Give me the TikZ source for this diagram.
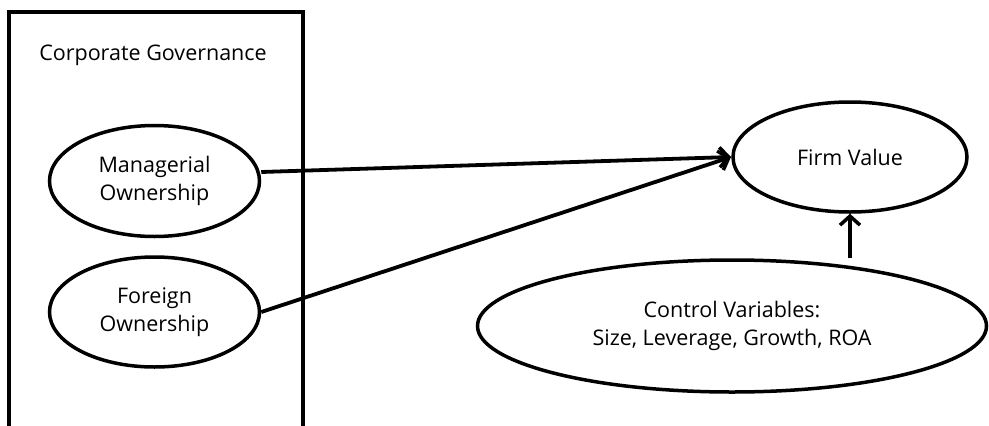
\documentclass[tikz,border=0pt]{standalone}
\usepackage{fontspec}
\setmainfont{Open Sans}
\usetikzlibrary{shapes.geometric,arrows.meta}
\begin{document}
\begin{tikzpicture}[x=1pt,y=-1pt,
  oval/.style={draw,line width=3.5pt,ellipse,inner sep=0pt,align=center,font=\fontsize{21.5}{28}\selectfont},
  lbl/.style={font=\fontsize{21.5}{28}\selectfont,align=center},
  link/.style={line width=3.8pt,-{Straight Barb[length=9pt,width=20pt,line width=3.5pt]}}]
\useasboundingbox (0,0) rectangle (989,426);
\fill[white] (0,0) rectangle (989,426);
\coordinate (bl) at (9,440);
\coordinate (br) at (303,440);
\draw[line width=3.8pt] (bl) -- (9,12) -- (303,12) -- (br);
\node[lbl] (cg) at (153,55) {Corporate Governance};
\node[oval,minimum width=210pt,minimum height=111pt] (mo) at (154.5,181) {Managerial\\Ownership};
\node[oval,minimum width=210pt,minimum height=110pt] (fo) at (154.5,312) {Foreign\\Ownership};
\node[oval,minimum width=234pt,minimum height=110pt] (fv) at (850,157) {Firm\ Value};
\node[oval,minimum width=509pt,minimum height=132pt] (cv) at (732,326) {Control Variables:\\Size,\ Leverage,\ Growth, ROA};
\coordinate (tip) at (731,157);
\draw[link] (mo.east) ++(0,-9) -- (tip);
\draw[link] (fo.east) -- (tip);
\draw[link] (cv.north -| fv.south) -- (fv.south);
\end{tikzpicture}
\end{document}
